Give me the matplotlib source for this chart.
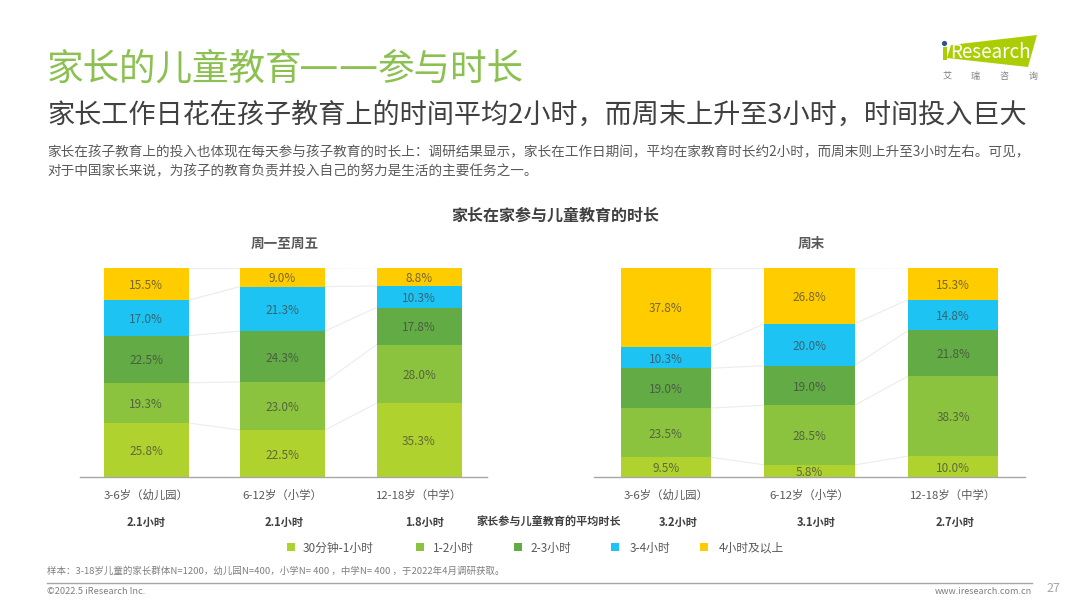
import matplotlib
matplotlib.use("Agg")
import matplotlib.pyplot as plt
import numpy as np
from matplotlib.patches import Polygon

plt.rcParams['font.family'] = ['Noto Sans CJK SC', 'DejaVu Sans']

# full-width punctuation, written as escapes
COMMA = "\uff0c"
COLON = "\uff1a"
LP = "\uff08"
RP = "\uff09"

age_groups = [f"3-6岁{LP}幼儿园{RP}", f"6-12岁{LP}小学{RP}", f"12-18岁{LP}中学{RP}"]
bands = ["30分钟-1小时", "1-2小时", "2-3小时", "3-4小时", "4小时及以上"]
band_colors = ["#b0d22f", "#8bc33f", "#63ab45", "#1dc3f2", "#ffcc00"]

# one list per age group, in band order
weekday_kinder = [25.8, 19.3, 22.5, 17.0, 15.5]
weekday_primary = [22.5, 23.0, 24.3, 21.3, 9.0]
weekday_middle = [35.3, 28.0, 17.8, 10.3, 8.8]
weekend_kinder = [9.5, 23.5, 19.0, 10.3, 37.8]
weekend_primary = [5.8, 28.5, 19.0, 20.0, 26.8]
weekend_middle = [10.0, 38.3, 21.8, 14.8, 15.3]

weekday_avg = ["2.1小时", "2.1小时", "1.8小时"]
weekend_avg = ["3.2小时", "3.1小时", "2.7小时"]

W, H = 1080, 607
GREY = "#595959"


def add_axes_px(left, top, right, bottom):
    return fig.add_axes([left / W, 1 - bottom / H, (right - left) / W, (bottom - top) / H])


def plot_stack(ax, columns, width, xlim):
    values = np.array(columns)
    x = np.arange(len(columns))
    bottoms = np.zeros(len(columns))
    for i, color in enumerate(band_colors):
        ax.bar(x, values[:, i], width, bottom=bottoms, color=color, zorder=2)
        tops = bottoms + values[:, i]
        # thin connectors between the band tops of neighbouring bars
        for j in range(len(columns) - 1):
            ax.plot([x[j] + width / 2, x[j + 1] - width / 2], [tops[j], tops[j + 1]],
                    color="#ececec", lw=0.8, zorder=1)
        for j in range(len(columns)):
            ax.annotate(f"{values[j, i]:.1f}%", (x[j], bottoms[j] + values[j, i] / 2),
                        xytext=(0, -1.2), textcoords="offset points",
                        ha="center", va="center", fontsize=8.5, color="#404040", alpha=0.72,
                        zorder=3)
        bottoms = tops
    ax.set_xlim(*xlim)
    ax.set_ylim(0, 100)
    ax.set_yticks([])
    ax.set_xticks(x)
    ax.set_xticklabels(age_groups, fontsize=8.2, color=GREY)
    ax.tick_params(axis="x", length=0, pad=9)
    for side in ["top", "left", "right"]:
        ax.spines[side].set_visible(False)
    ax.spines["bottom"].set_color("#a6a6a6")
    ax.spines["bottom"].set_linewidth(1.0)
    ax.patch.set_alpha(0)


fig = plt.figure(figsize=(W / 100, H / 100), dpi=100, facecolor="white")

# page layer in pixel coordinates for titles, notes and logo
page = fig.add_axes([0, 0, 1, 1])
page.set_xlim(0, W)
page.set_ylim(H, 0)
page.axis("off")

TITLE_GREEN = "#8cc152"
page.text(47, 80, "家长的儿童教育", fontsize=26.3, color=TITLE_GREEN, va="baseline")
page.text(299, 80, "——", fontsize=32, color=TITLE_GREEN, va="baseline")
page.text(378, 80, "参与时长", fontsize=26.3, color=TITLE_GREEN, va="baseline")
page.text(47, 115, f"家长工作日花在孩子教育上的时间平均2小时{COMMA}而周末上升至3小时{COMMA}时间投入巨大",
          fontsize=19.55, color="#404040", va="center")
page.text(47, 152, f"家长在孩子教育上的投入也体现在每天参与孩子教育的时长上{COLON}调研结果显示{COMMA}家长在工作日期间{COMMA}"
          f"平均在家教育时长约2小时{COMMA}而周末则上升至3小时左右。可见{COMMA}", fontsize=9.8, color=GREY, va="center")
page.text(47, 171, f"对于中国家长来说{COMMA}为孩子的教育负责并投入自己的努力是生活的主要任务之一。",
          fontsize=9.8, color=GREY, va="center")

page.text(555, 216, "家长在家参与儿童教育的时长", fontsize=11.5, fontweight="bold", color="#404040",
          ha="center", va="center")
page.text(285, 244, "周一至周五", fontsize=9.8, fontweight="bold", color=GREY, ha="center", va="center")
page.text(811, 244, "周末", fontsize=9.8, fontweight="bold", color=GREY, ha="center", va="center")

ax_left = add_axes_px(80, 268, 487, 477)
plot_stack(ax_left, [weekday_kinder, weekday_primary, weekday_middle], 0.623, (-0.484, 2.498))
ax_right = add_axes_px(594, 268, 1025, 477)
plot_stack(ax_right, [weekend_kinder, weekend_primary, weekend_middle], 0.627, (-0.50, 2.50))

# average duration row
for xpos, label in zip([146, 284, 425, 678, 816, 955], weekday_avg + weekend_avg):
    page.text(xpos, 522, label, fontsize=8, fontweight="bold", color="#404040", ha="center", va="center")
page.text(549, 522, "家长参与儿童教育的平均时长", fontsize=8, fontweight="bold", color="#404040",
          ha="center", va="center")

# legend
for xpos, xtext, label, color in zip([291, 420, 518, 615, 704], [303, 433, 530, 630, 719], bands, band_colors):
    page.scatter([xpos], [547], s=32, marker="s", color=color, linewidths=0)
    page.text(xtext, 548, label, fontsize=8.5, color=GREY, va="center")

page.text(47, 571, f"样本{COLON}3-18岁儿童的家长群体N=1200{COMMA}幼儿园N=400{COMMA}小学N= 400 {COMMA}中学N= 400 {COMMA}于2022年4月调研获取。",
          fontsize=6.8, color="#7f7f7f", va="center")
page.plot([47, 1032], [583, 583], color="#a6a6a6", lw=1)
page.text(47, 592, "©2022.5 iResearch Inc.", fontsize=6.7, color="#7f7f7f", va="center")
page.text(1032, 592, "www.iresearch.com.cn", fontsize=6.5, color="#7f7f7f", va="center", ha="right")
page.text(1053, 588, "27", fontsize=9, color="#a6a6a6", va="center", ha="center")

# logo
page.add_patch(Polygon([(951, 45), (1037, 35), (1028, 67), (947, 58)], closed=True,
                       facecolor="#aacd06", edgecolor="none"))
page.add_patch(Polygon([(943, 47), (947, 47), (947, 60), (943, 60)], closed=True,
                       facecolor="#aacd06", edgecolor="none"))
page.scatter([944], [43], s=14, color="#2f4f8f", linewidths=0)
page.text(950, 52, "Research", fontsize=13.6, color="white", va="center")
for xpos, char in zip([947, 975, 1004, 1033], "艾瑞咨询"):
    page.text(xpos, 76, char, fontsize=6.5, color="#7f7f7f", va="center", ha="center")

fig.savefig("out.png", dpi=100)
